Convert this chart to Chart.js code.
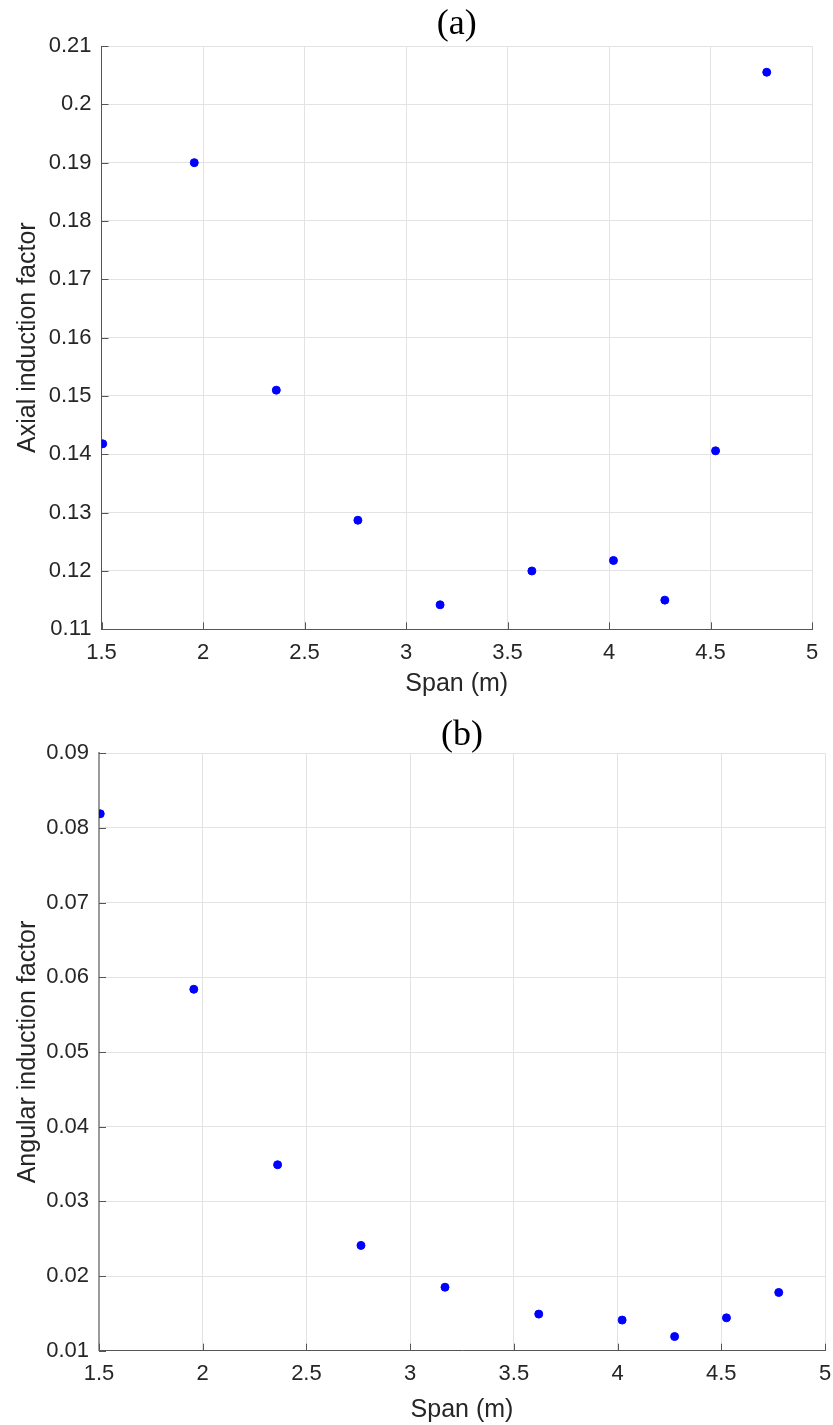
<!DOCTYPE html>
<html>
<head>
<meta charset="utf-8">
<script src="https://cdn.jsdelivr.net/npm/chart.js@4/dist/chart.umd.min.js"></script>
<style>
  body { margin: 0; background: #fff; }
  .wrap { position: absolute; left: 0; width: 833px; }
</style>
</head>
<body>
<div class="wrap" style="top:0;height:705px"><canvas id="chartA" width="833" height="705"></canvas></div>
<div class="wrap" style="top:705px;height:720px"><canvas id="chartB" width="833" height="720"></canvas></div>
<script>
// span positions (m), shared by both panels
const span = [1.506, 1.957, 2.361, 2.763, 3.168, 3.620, 4.022, 4.275, 4.525, 4.777];
// (a) axial induction factor
const axial = [0.1418, 0.1900, 0.1510, 0.1287, 0.1142, 0.1200, 0.1218, 0.1150, 0.1406, 0.2055];
// (b) angular induction factor
const angular = [0.0819, 0.0584, 0.0349, 0.0241, 0.0185, 0.0149, 0.0141, 0.0119, 0.0144, 0.0178];

const textColor = '#262626';
const gridColor = '#e3e3e3';

// matlab prints 0.2 not 0.20, 2 not 2.0
const trimZeros = v => String(Number(v.toFixed(2)));

// MATLAB style ticks pointing into the plot
const inwardTicks = {
  id: 'inwardTicks',
  afterDraw(chart) {
    const { ctx, chartArea: a, scales } = chart;
    ctx.save();
    ctx.strokeStyle = '#555';
    ctx.lineWidth = 1;
    ctx.beginPath();
    scales.y.ticks.forEach(t => {
      const y = Math.round(scales.y.getPixelForValue(t.value)) + 0.5;
      ctx.moveTo(a.left, y);
      ctx.lineTo(a.left + 7, y);
    });
    scales.x.ticks.forEach(t => {
      const x = Math.round(scales.x.getPixelForValue(t.value)) + 0.5;
      ctx.moveTo(x, a.bottom);
      ctx.lineTo(x, a.bottom - 7);
    });
    ctx.stroke();
    ctx.restore();
  }
};

function makeChart(id, values, yLabel, title, yMin, yMax, box) {
  const points = span.map((x, i) => ({ x: x, y: values[i] }));
  return new Chart(document.getElementById(id), {
    type: 'scatter',
    data: {
      datasets: [{
        data: points,
        backgroundColor: '#0000ff',
        borderColor: '#0000ff',
        pointRadius: 4,
        pointHoverRadius: 4
      }]
    },
    options: {
      responsive: false,
      animation: false,
      layout: { padding: { left: 0, right: box.right, top: 0, bottom: 0 } },
      scales: {
        x: {
          type: 'linear',
          min: 1.5,
          max: 5,
          afterFit: s => { s.height = box.xh; s.paddingLeft = 0; s.paddingRight = 0; },
          ticks: {
            stepSize: 0.5, color: textColor, padding: 10, callback: trimZeros,
            font: { family: 'Liberation Sans', size: 22 }
          },
          grid: { color: gridColor, drawTicks: false },
          border: { color: '#555', width: 1 },
          title: {
            display: true, text: 'Span (m)', color: textColor,
            font: { family: 'Liberation Sans', size: 25 }, padding: { top: 0, bottom: box.xtPad }
          }
        },
        y: {
          min: yMin,
          max: yMax,
          afterFit: s => { s.width = box.left; s.paddingTop = 0; s.paddingBottom = 0; },
          ticks: {
            stepSize: 0.01, color: textColor, padding: 10, callback: trimZeros,
            font: { family: 'Liberation Sans', size: 22 }
          },
          grid: { color: gridColor, drawTicks: false },
          border: { color: box.yBorder, width: box.yBorderW },
          title: {
            display: true, text: yLabel, color: textColor,
            font: { family: 'Liberation Sans', size: 25 }, padding: { top: 13, bottom: 0 }
          }
        }
      },
      plugins: {
        legend: { display: false },
        tooltip: { enabled: false },
        title: {
          display: true,
          fullSize: false,
          text: title,
          color: '#000',
          font: { family: 'Liberation Serif', size: 36, weight: 'normal', lineHeight: 1 },
          padding: { top: box.tTop, bottom: box.tBottom }
        }
      }
    },
    plugins: [inwardTicks]
  });
}

makeChart('chartA', axial, 'Axial induction factor', '(a)', 0.11, 0.21,
  { left: 101.5, right: 21, xh: 75.7, xtPad: 6, tTop: 7, tBottom: 3, yBorder: '#555', yBorderW: 1 });
makeChart('chartB', angular, 'Angular induction factor', '(b)', 0.01, 0.09,
  { left: 99, right: 8, xh: 74.3, xtPad: 0, tTop: 12.3, tBottom: 0, yBorder: '#9a9a9a', yBorderW: 2 });
</script>
</body>
</html>
